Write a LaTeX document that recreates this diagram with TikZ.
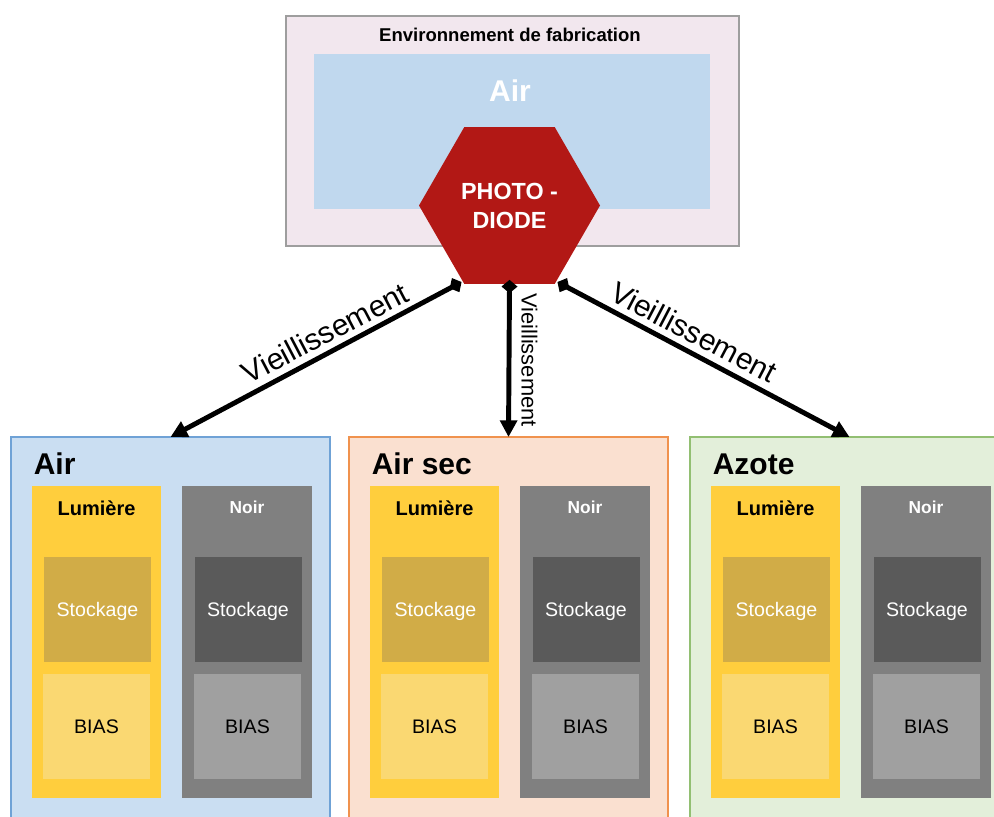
\documentclass[tikz,border=0pt]{standalone}
\usepackage{fontspec}
\setmainfont{Liberation Sans}
\usetikzlibrary{shapes.geometric,arrows.meta,calc}
\definecolor{envfill}{HTML}{F2E7EE}
\definecolor{envdraw}{HTML}{9E9E9E}
\definecolor{airin}{HTML}{C0D8EE}
\definecolor{hexred}{HTML}{B21815}
\definecolor{airfill}{HTML}{CADEF2}
\definecolor{airdraw}{HTML}{6FA2D6}
\definecolor{secfill}{HTML}{FAE0D0}
\definecolor{secdraw}{HTML}{F0924E}
\definecolor{azfill}{HTML}{E3EFDA}
\definecolor{azdraw}{HTML}{92BF72}
\definecolor{yelcol}{HTML}{FFCE3D}
\definecolor{yelsto}{HTML}{D1AC47}
\definecolor{yelbias}{HTML}{FAD872}
\definecolor{graycol}{HTML}{808080}
\definecolor{graysto}{HTML}{5A5A5A}
\definecolor{graybias}{HTML}{A0A0A0}
\begin{document}
\begin{tikzpicture}[x=0.75pt,y=-0.75pt,
  box/.style={rectangle, inner sep=0pt, outer sep=0pt},
  bigbox/.style={box, line width=1.1pt, minimum width=319*0.75pt, minimum height=403*0.75pt},
  colbox/.style={box, minimum height=312*0.75pt},
  cell/.style={box, minimum width=107*0.75pt, minimum height=105*0.75pt, text depth=0pt,
    font=\fontsize{14.7pt}{17pt}\selectfont},
  hdr/.style={inner sep=0pt, anchor=base west, font=\fontsize{22.5pt}{26pt}\selectfont\bfseries},
  conn/.style={line width=3.7pt, {Diamond[length=10pt,width=12pt]}-{Triangle[length=12.5pt,width=12.5pt]}, shorten <=-3pt},
  lab/.style={inner sep=0pt, font=\fontsize{22.5pt}{26pt}\selectfont}
]
\useasboundingbox (0,0) rectangle (994,816);
\clip (0,0) rectangle (994,816);

% manufacturing environment
\node[box, draw=envdraw, line width=1.1pt, fill=envfill, minimum width=453*0.75pt, minimum height=230*0.75pt] (env) at (512.5,131) {};
\node[inner sep=0pt, anchor=base, font=\fontsize{13.9pt}{16pt}\selectfont\bfseries] (envtitle) at (510,42) {Environnement de fabrication};
\node[box, fill=airin, minimum width=396*0.75pt, minimum height=155*0.75pt] (airin) at (512,131.5) {};
\node[inner sep=0pt, anchor=base, text=white, font=\fontsize{22.5pt}{26pt}\selectfont\bfseries] (airtitle) at (510,102) {Air};
\node[regular polygon, regular polygon sides=6, minimum size=181*0.75pt, inner sep=0pt, outer sep=0pt,
  fill=hexred, text=white, align=center, font=\fontsize{17.5pt}{21.75pt}\selectfont\bfseries] (hex) at (509.5,205.5) {PHOTO -\\DIODE};

% three storage environments
\foreach \dx/\nm/\ttl/\fc/\dc in {0/air/Air/airfill/airdraw, 338/airsec/Air sec/secfill/secdraw, 679/azote/Azote/azfill/azdraw}{
  \node[bigbox, fill=\fc, draw=\dc] (\nm) at (170.5+\dx,638.5) {};
  \node[hdr] (\nm-t) at (33.5+\dx,474) {\ttl};
  \node[colbox, fill=yelcol, minimum width=129*0.75pt] (\nm-lc) at (96.5+\dx,642) {};
  \node[colbox, fill=graycol, minimum width=130*0.75pt] (\nm-nc) at (247+\dx,642) {};
  \node[inner sep=0pt, anchor=base, font=\fontsize{15pt}{18pt}\selectfont\bfseries] (\nm-lt) at (96.5+\dx,515) {Lumière};
  \node[inner sep=0pt, anchor=base, text=white, font=\fontsize{13pt}{16pt}\selectfont\bfseries] (\nm-nt) at (247+\dx,513) {Noir};
  \node[cell, fill=yelsto, text=white] (\nm-ls) at (97.5+\dx,609) {Stockage};
  \node[cell, fill=yelbias] (\nm-lb) at (96.5+\dx,726.5) {BIAS};
  \node[cell, fill=graysto, text=white] (\nm-ns) at (248+\dx,609) {Stockage};
  \node[cell, fill=graybias] (\nm-nb) at (247.5+\dx,726.5) {BIAS};
}

% ageing arrows
\draw[conn] ($(hex.south)+(-51.5,0)$) -- (air.north);
\draw[conn] (hex.south) -- (airsec.north);
\draw[conn] ($(hex.south)+(51.5,0)$) -- (azote.north);
\node[lab, rotate=27.6] (lab1) at (325,333) {Vieillissement};
\node[lab, rotate=-27.6] (lab3) at (694,332) {Vieillissement};
\node[lab, rotate=-90, font=\fontsize{16.4pt}{19pt}\selectfont] (lab2) at (529.5,360) {Vieillissement};
\end{tikzpicture}
\end{document}
